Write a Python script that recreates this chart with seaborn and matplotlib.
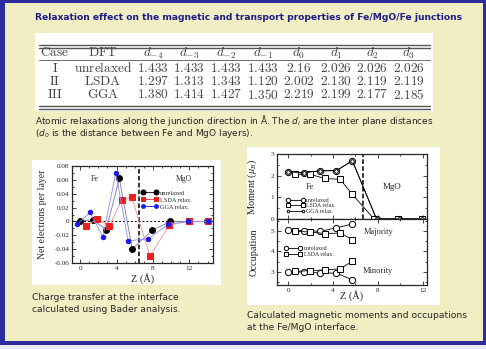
import matplotlib
matplotlib.use('Agg')
import matplotlib.pyplot as plt
from matplotlib.patches import Rectangle
from matplotlib.lines import Line2D
from matplotlib.ticker import MultipleLocator
import seaborn as sns

# ---- table data (interplane distances, Angstrom)
cases = ['I', 'II', 'III']
methods = ['unrelaxed', 'LSDA', 'GGA']
d_names = ['d_{-4}', 'd_{-3}', 'd_{-2}', 'd_{-1}', 'd_0', 'd_1', 'd_2', 'd_3']
d_unrelaxed = ['1.433', '1.433', '1.433', '1.433', '2.16', '2.026', '2.026', '2.026']
d_lsda = ['1.297', '1.313', '1.343', '1.120', '2.002', '2.130', '2.119', '2.119']
d_gga = ['1.380', '1.414', '1.427', '1.350', '2.219', '2.199', '2.177', '2.185']

# ---- charge transfer (net electrons per layer)
z_unrel = [0.0, 1.43, 2.87, 4.30, 5.73, 7.89, 9.92, 11.94, 13.97]
q_unrel = [0.001, 0.002, -0.012, 0.062, -0.040, -0.013, 0.0, 0.0, 0.0]
z_lsda = [0.6, 1.9, 3.2, 4.55, 5.67, 7.67, 9.8, 11.92, 14.04]
q_lsda = [-0.007, 0.004, -0.007, 0.031, 0.035, -0.050, -0.005, 0.0, 0.0]
z_gga = [-0.3, 1.08, 2.49, 3.92, 5.27, 7.49, 9.69, 11.87, 14.05]
q_gga = [-0.004, 0.013, -0.022, 0.070, -0.028, -0.025, -0.004, 0.0, 0.0]

# ---- magnetic moments and occupations
zm_unrel = [0.0, 1.43, 2.87, 4.30, 5.73, 7.89, 9.92, 11.94]
m_unrel = [2.18, 2.13, 2.23, 2.23, 2.69, 0.0, 0.0, 0.0]
zm_lsda = [0.6, 1.96, 3.29, 4.65, 5.72, 7.67, 9.8, 11.92]
m_lsda = [2.07, 2.06, 1.87, 1.83, 1.14, 0.0, 0.0, 0.0]
m_gga = [2.18, 2.13, 2.23, 2.23, 2.69, 0.0, 0.0, 0.0]
zo_unrel = [0.0, 1.43, 2.87, 4.30, 5.73]
zo_lsda = [0.6, 1.96, 3.29, 4.65, 5.72]
maj_unrel = [5.03, 5.02, 4.98, 5.15, 5.34]
maj_lsda = [4.98, 4.95, 4.87, 4.90, 4.58]
min_unrel = [3.00, 3.00, 2.95, 2.95, 2.62]
min_lsda = [3.03, 3.07, 3.10, 3.16, 3.52]

W, H = 486, 349
BLUE = '#2c2c9e'
YELLOW = '#f1eec4'
SERIF = 'Liberation Serif'

sns.set_style('ticks')
plt.rcParams['font.family'] = ['DejaVu Sans']
plt.rcParams['mathtext.fontset'] = 'stix'


def fx(x):
    return x / W


def fy(y):
    return 1 - y / H


def box(x0, y0, x1, y1, color, z):
    fig.add_artist(Rectangle((fx(x0), fy(y1)), (x1 - x0) / W, (y1 - y0) / H,
                             transform=fig.transFigure, color=color, zorder=z, lw=0))


def hline(x0, x1, y, lw):
    fig.add_artist(Line2D([fx(x0), fx(x1)], [fy(y), fy(y)], lw=lw, color='#555555',
                          transform=fig.transFigure, zorder=1))


def axes_px(left, top, right, bottom):
    return fig.add_axes([fx(left), fy(bottom), (right - left) / W, (bottom - top) / H])


fig = plt.figure(figsize=(4.86, 3.49), dpi=100, facecolor='#e8e8ee')
box(0, 0, W, 345, BLUE, -3)
box(5, 3, 483, 341, YELLOW, -2)
box(35, 33, 433, 111, 'white', -1)
box(32, 160, 221, 285, 'white', -1)
box(247, 147, 440, 305, 'white', -1)

fig.text(fx(248), fy(17), 'Relaxation effect on the magnetic and transport properties of Fe/MgO/Fe junctions',
         ha='center', va='center', fontsize=6.6, fontweight='bold', color='#1c1c8a')

# ---- table
hline(39, 430, 44.5, 1.0)
hline(39, 430, 47.5, 1.0)
hline(39, 430, 60, 0.6)
hline(39, 430, 106, 1.0)
hline(39, 430, 109, 1.0)
col_x = [55, 103, 153, 189, 226, 263, 299, 336, 372, 409]
tcol = '#444444'
header = [r'$\mathrm{Case}$', r'$\mathrm{DFT}$'] + ['$' + d + '$' for d in d_names]
for x, s in zip(col_x, header):
    fig.text(fx(x), fy(53), s, ha='center', va='center', fontsize=9.6, color=tcol, math_fontfamily='cm')
for row_y, case, method, vals in zip([68, 81.5, 95], cases, methods, [d_unrelaxed, d_lsda, d_gga]):
    cells = [r'$\mathrm{' + case + '}$', r'$\mathrm{' + method + '}$'] + ['$' + v + '$' for v in vals]
    for x, s in zip(col_x, cells):
        fig.text(fx(x), fy(row_y), s, ha='center', va='center', fontsize=9.6, color=tcol, math_fontfamily='cm')

fig.text(fx(35), fy(121), r'Atomic relaxations along the junction direction in Å. The $d_i$ are the inter plane distances',
         va='center', fontsize=6.45, math_fontfamily='dejavusans')
fig.text(fx(35), fy(133.5), r'($d_0$ is the distance between Fe and MgO layers).',
         va='center', fontsize=6.45, math_fontfamily='dejavusans')
fig.text(fx(32), fy(297), 'Charge transfer at the interface', va='center', fontsize=6.6)
fig.text(fx(32), fy(309), 'calculated using Bader analysis.', va='center', fontsize=6.6)
fig.text(fx(247), fy(315), 'Calculated magnetic moments and occupations', va='center', fontsize=6.6)
fig.text(fx(247), fy(328), 'at the Fe/MgO interface.', va='center', fontsize=6.6)

# ---- left plot: charge transfer
axL = axes_px(72, 166, 213, 263)
series = [
    (z_unrel, q_unrel, 'black', '#7a7a9a', 'o', 4.2, 'unrelaxed'),
    (z_lsda, q_lsda, '#e82020', '#f09090', 's', 4.0, 'LSDA relax.'),
    (z_gga, q_gga, '#1a1aee', '#8a8af0', 'o', 3.2, 'GGA relax.'),
]
for z, q, c, lc, mk, ms, lab in series:
    sns.lineplot(x=z, y=q, ax=axL, sort=False, color=lc, lw=0.6, marker=mk, markersize=ms,
                 markerfacecolor=c, markeredgecolor=c, label=lab, clip_on=False)
axL.axhline(0, color='black', ls=(0, (2, 2)), lw=0.7, zorder=1)
axL.axvline(6.5, color='black', ls=(0, (3, 1.5)), lw=1.1, zorder=1)
axL.set_xlim(-0.9, 14.6)
axL.set_ylim(-0.06, 0.08)
axL.set_xticks([0, 4, 8, 12])
axL.set_yticks([-0.06, -0.04, -0.02, 0, 0.02, 0.04, 0.06, 0.08])
axL.set_yticklabels(['-0.06', '-0.04', '-0.02', '0', '0.02', '0.04', '0.06', '0.08'])
axL.xaxis.set_minor_locator(MultipleLocator(1))
axL.yaxis.set_minor_locator(MultipleLocator(0.01))
axL.set_xlabel('Z (Å)', fontsize=7.5, family=SERIF)
axL.set_ylabel('Net electrons per layer', fontsize=7, family=SERIF)
axL.xaxis.set_label_coords(0.5, -0.1)
axL.yaxis.set_label_coords(-0.18, 0.5)
axL.text(0.16, 0.87, 'Fe', transform=axL.transAxes, ha='center', va='center', fontsize=5.8, family=SERIF)
axL.text(0.79, 0.87, 'MgO', transform=axL.transAxes, ha='center', va='center', fontsize=5.5, family=SERIF)
leg = axL.legend(loc='upper left', bbox_to_anchor=(0.49, 0.75), frameon=False, numpoints=2, markerscale=0.85,
                 prop={'family': SERIF, 'size': 4.5}, handlelength=2.7, handletextpad=0.3,
                 labelspacing=0.25, borderpad=0, borderaxespad=0)
for h, (_, _, c, _, _, _, _) in zip(leg.legend_handles, series):
    h.set_color(c)

# ---- right plot: moments (top) and occupations (bottom)
axM = axes_px(277, 154, 427, 219)
axO = axes_px(277, 219, 427, 285)
open_kw = dict(markerfacecolor='white', markeredgecolor='black', markeredgewidth=0.7, color='black', lw=0.6,
               sort=False, clip_on=False)
sns.lineplot(x=zm_unrel, y=m_unrel, ax=axM, marker='o', markersize=4.5, label='unrelaxed', **open_kw)
sns.lineplot(x=zm_lsda, y=m_lsda, ax=axM, marker='s', markersize=4.3, label='LSDA relax.', **open_kw)
sns.lineplot(x=zm_unrel, y=m_gga, ax=axM, marker='o', markersize=2.6, label='GGA relax.', **open_kw)
axM.axvline(6.65, color='black', ls=(0, (3, 1.5)), lw=1.1)
axM.set_ylim(0, 3)
axM.set_ylabel(r'Moment ($\mu_B$)', fontsize=7.5, family=SERIF)
axM.text(0.22, 0.49, 'Fe', transform=axM.transAxes, ha='center', va='center', fontsize=6, family=SERIF)
axM.text(0.77, 0.49, 'MgO', transform=axM.transAxes, ha='center', va='center', fontsize=6.5, family=SERIF)
axM.legend(loc='upper left', bbox_to_anchor=(0.06, 0.33), frameon=False, numpoints=2, markerscale=0.7,
           prop={'family': SERIF, 'size': 4.2}, handlelength=3.2, handletextpad=0.3,
           labelspacing=0.12, borderpad=0, borderaxespad=0)

sns.lineplot(x=zo_unrel, y=maj_unrel, ax=axO, marker='o', markersize=4.5, label='unrelaxed', **open_kw)
sns.lineplot(x=zo_lsda, y=maj_lsda, ax=axO, marker='s', markersize=4.3, label='LSDA relax.', **open_kw)
sns.lineplot(x=zo_unrel, y=min_unrel, ax=axO, marker='o', markersize=4.5, **open_kw)
sns.lineplot(x=zo_lsda, y=min_lsda, ax=axO, marker='s', markersize=4.3, **open_kw)
axO.set_ylim(2.37, 5.58)
axO.set_ylabel('Occupation', fontsize=7.5, family=SERIF)
axO.set_xlabel('Z (Å)', fontsize=7.5, family=SERIF)
axO.xaxis.set_label_coords(0.5, -0.08)
axO.text(0.68, 0.80, 'Majority', transform=axO.transAxes, ha='center', va='center', fontsize=6, family=SERIF)
axO.text(0.675, 0.21, 'Minority', transform=axO.transAxes, ha='center', va='center', fontsize=6, family=SERIF)
handles, labels = axO.get_legend_handles_labels()
axO.legend(handles[:2], labels[:2], loc='upper left', bbox_to_anchor=(0.05, 0.59), frameon=False, numpoints=2,
           markerscale=0.7, prop={'family': SERIF, 'size': 4.2}, handlelength=3.0, handletextpad=0.3,
           labelspacing=0.12, borderpad=0, borderaxespad=0)

for ax in (axM, axO):
    ax.set_xlim(-1, 12.4)
    ax.set_xticks([0, 4, 8, 12])
    ax.xaxis.set_minor_locator(MultipleLocator(2))
    ax.yaxis.set_minor_locator(MultipleLocator(0.5))
    ax.yaxis.set_label_coords(-0.12, 0.5)
axM.set_yticks([0, 1, 2, 3])
axO.set_yticks([3, 4, 5])
axM.tick_params(labelbottom=False)

for ax in (axL, axM, axO):
    ax.set_facecolor('white')
    ax.tick_params(which='both', direction='in', top=True, right=True, labelsize=5.2, pad=2,
                   width=0.6, labelfontfamily=SERIF)
    ax.tick_params(which='major', length=3)
    ax.tick_params(which='minor', length=1.5)
    for sp in ax.spines.values():
        sp.set_linewidth(0.9)
        sp.set_visible(True)

fig.savefig('out.png', dpi=100)
